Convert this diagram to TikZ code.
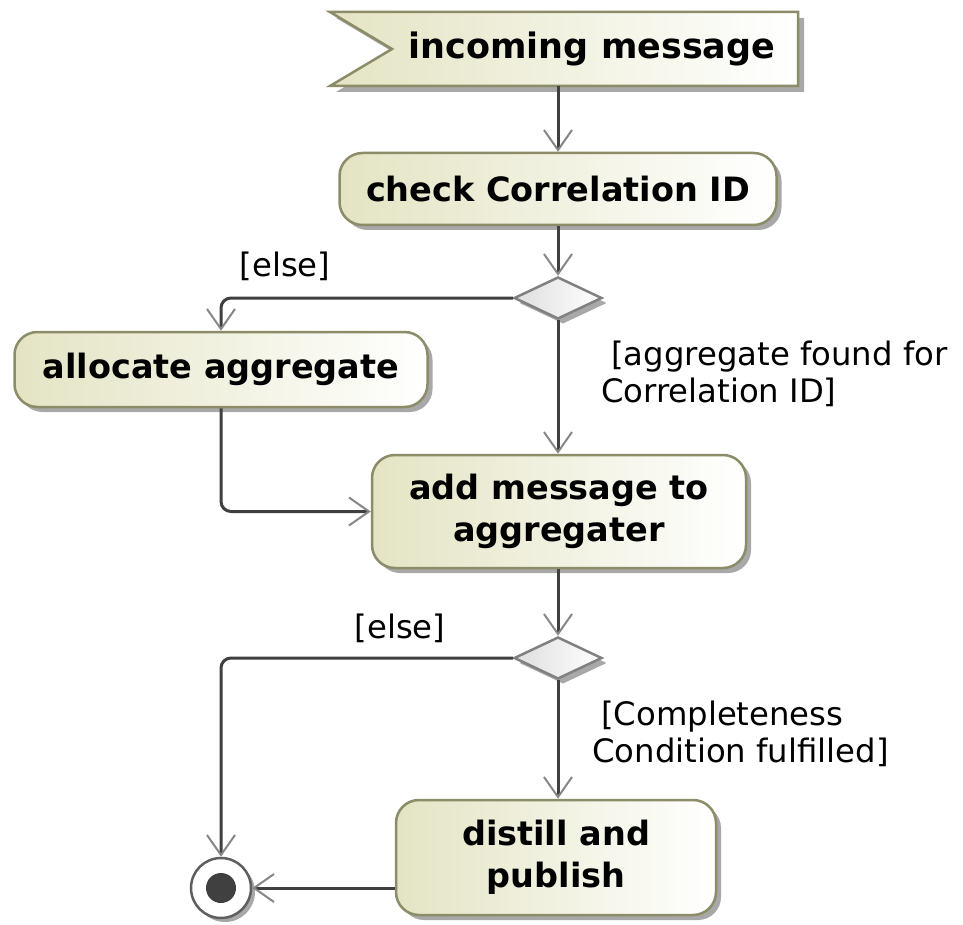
\documentclass[tikz,border=0pt]{standalone}
\usepackage{fontspec}
\setmainfont{DejaVu Sans}
\usetikzlibrary{arrows.meta,shapes.geometric,shadows}

\definecolor{boxtan}{RGB}{228,228,196}
\definecolor{boxline}{RGB}{140,140,104}
\definecolor{shadowgray}{RGB}{168,168,168}
\definecolor{flowline}{RGB}{64,64,64}
\definecolor{tipgray}{RGB}{135,135,135}
\definecolor{diamondfill}{RGB}{222,222,222}
\definecolor{diamondline}{RGB}{128,128,128}
\definecolor{ringgray}{RGB}{95,95,95}

\tikzset{
  boxshadow/.style={drop shadow={shadow xshift=5pt, shadow yshift=-5pt, fill=shadowgray, opacity=1}},
  action/.style={draw=boxline, line width=2.5pt, rounded corners=23pt,
    left color=boxtan, right color=white, boxshadow,
    font=\fontsize{33.5}{42}\selectfont\bfseries, align=center, inner sep=0pt},
  signaltext/.style={font=\fontsize{35}{40}\selectfont\bfseries, inner sep=0pt},
  decision/.style={diamond, draw=diamondline, line width=2.5pt,
    left color=diamondfill, right color=white, boxshadow,
    minimum width=88pt, minimum height=42pt, inner sep=0pt},
  finalnode/.style={circle, draw=ringgray, line width=2.5pt, fill=white,
    minimum size=60pt, inner sep=0pt,
    drop shadow={shadow xshift=4pt, shadow yshift=-4pt, fill=shadowgray, opacity=1},
    path picture={\fill[flowline] (path picture bounding box.center) circle (15pt);}},
  guard/.style={font=\fontsize{32.3}{37}\selectfont, inner sep=0pt, align=left},
  flow/.style={draw=flowline, line width=3pt, rounded corners=10pt,
    -{Straight Barb[length=20pt, width=28pt, line width=2pt, color=tipgray]}},
}

\begin{document}
\begin{tikzpicture}[x=1pt, y=-1pt]
  % page area
  \fill[white] (0,0) rectangle (963,925);
  \useasboundingbox (0,0) rectangle (963,925);

  % accept-event shape for the incoming message
  \fill[shadowgray] (336,18) -- (804,18) -- (804,92) -- (336,92) -- (398,55) -- cycle;
  \shade[left color=boxtan, right color=white]
    (330,12) -- (798,12) -- (798,86) -- (330,86) -- (392,49) -- cycle;
  \draw[boxline, line width=2.5pt, line join=miter]
    (330,12) -- (798,12) -- (798,86) -- (330,86) -- (392,49) -- cycle;
  \node[signaltext, minimum height=74pt] (incoming) at (592,49) {incoming message};

  % actions
  \node[action, minimum width=437pt, minimum height=72pt] (check) at (558,189) {check Correlation ID};
  \node[action, minimum width=413pt, minimum height=75pt] (alloc) at (221,369.5) {allocate aggregate};
  \node[action, minimum width=374pt, minimum height=113pt] (add) at (559,511.5) {add message to\\aggregater};
  \node[action, minimum width=320pt, minimum height=115pt] (distill) at (556,857.5) {distill and\\publish};

  % decisions
  \node[decision] (d1) at (558,298) {};
  \node[decision] (d2) at (558,658) {};

  % final node
  \node[finalnode] (final) at (221,888) {};

  % control flows
  \draw[flow] (incoming.south -| check.north) -- (check.north);
  \draw[flow] (check.south) -- (d1.north);
  \draw[flow] (d1.west) -| (alloc.north);
  \draw[flow] (alloc.south) |- (add.west);
  \draw[flow] (d1.south) -- (d1.south |- add.north);
  \draw[flow] (add.south -| d2.north) -- (d2.north);
  \draw[flow] (d2.west) -| (final.north);
  \draw[flow] (d2.south) -- (d2.south |- distill.north);
  \draw[flow] (final -| distill.west) -- (final.east);

  % guards
  \node[guard] (g1) at (285,266) {[else]};
  \node[guard, anchor=north west] (g2) at (601,341)
    {\hspace*{10pt}[aggregate found for\\Correlation ID]};
  \node[guard] (g3) at (400,628) {[else]};
  \node[guard, anchor=north west] (g4) at (592,701)
    {\hspace*{9pt}[Completeness\\Condition fulfilled]};
\end{tikzpicture}
\end{document}
